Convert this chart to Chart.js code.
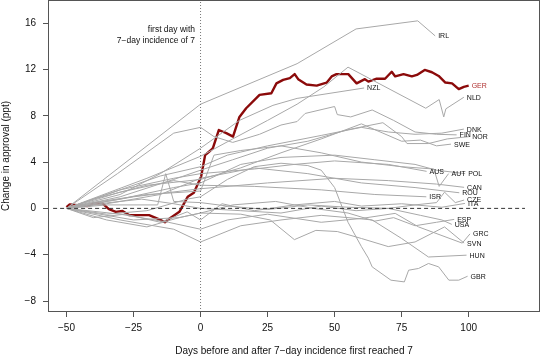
<!DOCTYPE html>
<html lang="en">
<head>
    <meta charset="UTF-8">
    <title>Change in approval</title>
    <script src="https://cdn.jsdelivr.net/npm/chart.js"></script>
    <style>
        body { margin: 0; background: #fff; }
        canvas { display: block; }
    </style>
</head>
<body>
<canvas id="myChart" width="540" height="357"></canvas>

<script>
    // tick labels of the two axes
    const xTicks = [-50, -25, 0, 25, 50, 75, 100];
    const yTicks = [-8, -4, 0, 4, 8, 12, 16];

    // Germany, [day, change in ppt]
    const GER = [[-50,0.1],[-48.8,0.35],[-42.2,0.2],[-39.8,0.43],[-36.6,0.43],[-34.2,-0.06],[-31.6,-0.3],[-29.1,-0.23],
        [-26.7,-0.58],[-19.2,-0.58],[-15.4,-0.95],[-13.3,-1.2],[-11,-0.78],[-7.9,-0.3],[-4.8,1.0],[-2.5,1.35],[0.2,2.73],
        [1.7,4.6],[3.7,5.0],[4.6,5.2],[6.8,6.77],[9.6,6.5],[12.1,6.2],[14.5,7.9],[17,8.65],[22,9.8],[26.4,9.95],[28.3,10.8],
        [30.8,11.1],[33.3,11.25],[35.1,11.6],[36.4,11.16],[39.5,10.7],[43.3,10.6],[47,10.86],[48.9,11.4],[50.7,11.6],[53.3,11.6],
        [55.1,11.6],[58.2,10.8],[61.3,11.16],[62.6,10.95],[65.7,11.2],[68.8,11.2],[71.3,11.8],[72.6,11.4],[75.7,11.6],[78.8,11.4],
        [80.7,11.53],[83.6,11.96],[86.3,11.76],[88.8,11.44],[91.3,10.87],[93.8,10.8],[96.3,10.3],[98.2,10.5],[100,10.6]];

    // the other countries
    const IRL = [[-50,0],[0,9.0],[36,12.5],[58,15.5],[81,16.2],[87.5,14.9]];
    const NZL = [[-50,0],[-30,1.2],[-15,3.0],[0,5.2],[14.5,7.6],[27,8.9],[36,9.5],[61,10.4]];
    const NLD = [[-50,0],[-20,2.6],[0,4.5],[12,6.0],[25,7.6],[36,9.0],[46,10.5],[55,12.2],[84,8.65],[89,9.4],[90.7,7.9],[91.5,8.6],[98.2,9.6]];
    const FIN = [[-50,0],[-31,3.0],[-10,6.5],[0,7.0],[5,6.2],[12,5.7],[22,6.4],[30,7.2],[36,7.5],[39,8.2],[50,8.8],[51,8.1],[56,7.9],[64,8.5],[72,7.6],[80,6.6],[88,6.4],[95.5,6.35]];
    const DNK = [[-50,0],[-35,1.2],[-15,2.8],[0,3.6],[10,4.6],[25,5.4],[45,6.3],[60,7.0],[70,6.6],[80,6.4],[90,6.5],[98.2,6.85]];
    const NOR = [[-50,0],[-30,1.0],[-10,2.5],[0,3.3],[12,4.2],[25,5.2],[40,5.8],[55,6.8],[68,7.4],[75,6.2],[77,5.6],[85,5.6],[92,6.0],[100.2,6.2]];
    const SWE = [[-50,0],[-40,0.8],[-20,2.0],[0,2.5],[15,3.5],[30,4.8],[45,6.0],[60,7.3],[68,6.5],[75,5.8],[82,5.9],[88,5.4],[93.4,5.55]];
    const AUS = [[-50,0],[-30,1.6],[-10,2.6],[0,3.0],[20,3.4],[35,3.8],[50,4.1],[70,3.8],[84.3,3.2]];
    const AUT = [[-50,0],[-40,0.5],[-20,1.2],[0,1.5],[5,4.6],[15,5.0],[30,5.4],[45,4.8],[60,4.0],[75,3.6],[87,3.4],[89,1.9],[92.5,3.0]];
    const POL = [[-50,0],[-30,0.8],[-10,1.8],[0,2.2],[15,3.8],[30,4.4],[50,4.6],[65,4.2],[80,3.8],[88,3.3],[98.7,3.0]];
    const CAN = [[-50,0],[-25,1.0],[0,1.7],[25,2.2],[50,2.6],[70,2.4],[88,2.1],[98.3,1.82]];
    const ROU = [[-50,0],[-35,0.4],[-15,1.2],[0,2.6],[20,3.5],[40,3.0],[60,2.2],[80,1.8],[96.5,1.35]];
    const ISR = [[-50,0],[-30,1.4],[-10,2.4],[0,2.0],[20,1.9],[45,1.6],[65,1.2],[84.2,1.0]];
    const CZE = [[-50,0],[-35,0.3],[-16,0.3],[-13,3.0],[-10,0.6],[0,0.5],[10,0.2],[25,-0.1],[40,0.3],[55,0.1],[70,0.0],[80,0.3],[88,0.5],[91,1.4],[95,0.5],[98.3,0.72]];
    const ITA = [[-50,0],[-40,-0.8],[-28,-0.5],[-15,-1.2],[-5,-0.3],[0,-1.0],[8,0.4],[20,-0.2],[35,0.3],[50,0.6],[60,0.2],[75,0.4],[90,0.1],[98.6,0.43]];
    const ESP = [[-50,0],[-35,-1.0],[-20,-1.6],[-8,-0.8],[0,-0.4],[12,0.3],[28,0.6],[42,0.0],[55,-0.4],[65,-1.1],[72,-0.8],[80,-1.5],[88,-1.2],[94.6,-0.95]];
    const USA = [[-50,0],[-38,0.4],[-22,0.8],[-10,0.4],[0,0.0],[15,-0.2],[30,-0.4],[45,0.2],[58,-0.2],[70,0.0],[82,-0.6],[90,-1.0],[93.7,-1.38]];
    const GRC = [[-50,0],[-30,-0.5],[-12,-1.2],[0,-1.8],[10,-1.0],[25,-0.5],[45,-1.2],[60,-0.87],[72.6,-0.43],[81.3,-1.6],[97.6,-3.0],[100.5,-2.2]];
    const SVN = [[-50,0],[-25,-1.0],[-8,-0.8],[0,-0.4],[15,-0.5],[26,-1.0],[35,-2.7],[43,-1.9],[51,-2.0],[60,-2.6],[70,-3.3],[80,-2.9],[91,-1.6],[98.3,-3.0]];
    const HUN = [[-50,0],[-30,-1.0],[-10,-1.8],[0,-2.9],[15,-1.5],[30,-1.0],[45,-0.6],[55,-0.8],[64,-1.0],[75,-2.6],[85,-4.2],[99.2,-4.04]];
    const GBR = [[-50,0],[-35,-0.5],[-20,-0.2],[-5,0.8],[0,1.0],[10,2.5],[20,3.6],[30,3.9],[40,3.7],[45,3.3],[50,1.8],[55,-1.2],[60,-3.3],
        [62.6,-4.3],[64,-5.05],[71,-6.2],[76,-6.35],[77.6,-5.34],[81.3,-5.19],[85,-4.76],[88.8,-5.05],[92.6,-6.2],[96.3,-6.2],[99.6,-5.86]];

    const paises = [
        ['IRL', IRL], ['NZL', NZL], ['NLD', NLD], ['FIN', FIN], ['DNK', DNK], ['NOR', NOR], ['SWE', SWE],
        ['AUS', AUS], ['AUT', AUT], ['POL', POL], ['CAN', CAN], ['ROU', ROU], ['ISR', ISR], ['CZE', CZE],
        ['ITA', ITA], ['ESP', ESP], ['USA', USA], ['GRC', GRC], ['SVN', SVN], ['HUN', HUN], ['GBR', GBR]
    ];

    const minus = v => String(v).replace('-', '\u2212');
    const pts = arr => arr.map(p => ({ x: p[0], y: p[1] }));

    let datasets = [];

    // reference lines: zero line and day 0
    datasets.push({
        label: 'zero', data: [{ x: -55, y: 0 }, { x: 121, y: 0 }],
        borderColor: '#333', borderWidth: 1, borderDash: [4, 3]
    });
    datasets.push({
        label: 'day0', data: [{ x: 0, y: -8.95 }, { x: 0, y: 18 }],
        borderColor: '#777', borderWidth: 1, borderDash: [1, 2]
    });

    for (var i = 0; i < paises.length; i++) {
        datasets.push({
            label: paises[i][0], data: pts(paises[i][1]),
            borderColor: '#a8a8a8', borderWidth: 1, pais: true
        });
    }

    datasets.push({
        label: 'GER', data: pts(GER),
        borderColor: '#8b0a0a', borderWidth: 2.4, pais: true, corTexto: '#b03030'
    });

    // country codes at the end of each line, box and note
    const extras = {
        id: 'extras',
        afterDatasetsDraw(chart) {
            const ctx = chart.ctx;
            const a = chart.chartArea;
            const sx = chart.scales.x, sy = chart.scales.y;
            ctx.save();
            ctx.font = '7px "Liberation Sans", Arial, sans-serif';
            ctx.textBaseline = 'middle';
            ctx.textAlign = 'left';
            chart.data.datasets.forEach(ds => {
                if (!ds.pais) return;
                const ult = ds.data[ds.data.length - 1];
                ctx.fillStyle = ds.corTexto || '#111';
                ctx.fillText(ds.label, sx.getPixelForValue(ult.x) + 3, sy.getPixelForValue(ult.y) + 0.5);
            });

            ctx.font = '8.5px "Liberation Sans", Arial, sans-serif';
            ctx.textAlign = 'right';
            ctx.fillStyle = '#111';
            ctx.fillText('first day with', sx.getPixelForValue(-2.06), sy.getPixelForValue(15.42));
            ctx.fillText('7\u2212day incidence of 7', sx.getPixelForValue(-2.06), sy.getPixelForValue(14.5));

            ctx.strokeStyle = '#555';
            ctx.lineWidth = 1;
            ctx.strokeRect(Math.round(a.left) + 0.5, Math.round(a.top) + 0.5,
                Math.round(a.right - a.left) - 1, Math.round(a.bottom - a.top) - 1);
            ctx.restore();
        }
    };

    const fonte = { family: '"Liberation Sans", Arial, sans-serif', size: 10 };

    const config = {
        type: 'line',
        data: { datasets: datasets },
        options: {
            responsive: false,
            animation: false,
            devicePixelRatio: 1,
            layout: { padding: { left: 0, right: 0, top: 0, bottom: 0 } },
            elements: { point: { radius: 0 }, line: { tension: 0, borderCapStyle: 'butt', borderJoinStyle: 'round' } },
            plugins: { legend: { display: false }, tooltip: { enabled: false } },
            scales: {
                x: {
                    type: 'linear', min: -56.9, max: 126.6,
                    afterBuildTicks: s => { s.ticks = xTicks.map(v => ({ value: v })); },
                    afterFit: s => { s.height = 45; s.paddingLeft = 0; s.paddingRight = 0; },
                    grid: { drawOnChartArea: false, drawTicks: true, tickLength: 5, color: '#555' },
                    border: { display: false },
                    ticks: { font: fonte, color: '#111', padding: 5, maxRotation: 0, callback: v => minus(v) },
                    title: {
                        display: true, text: 'Days before and after 7\u2212day incidence first reached 7',
                        font: fonte, color: '#111', padding: { top: 0, bottom: 0 }
                    }
                },
                y: {
                    type: 'linear', min: -8.95, max: 18,
                    afterBuildTicks: s => { s.ticks = yTicks.map(v => ({ value: v })); },
                    afterFit: s => { s.width = 48; s.paddingTop = 0; s.paddingBottom = 0; },
                    grid: { drawOnChartArea: false, drawTicks: true, tickLength: 5, color: '#555' },
                    border: { display: false },
                    ticks: { font: fonte, color: '#111', padding: 7, callback: v => minus(v) },
                    title: {
                        display: true, text: 'Change in approval (ppt)',
                        font: fonte, color: '#111', padding: { top: 0, bottom: 0 }
                    }
                }
            }
        },
        plugins: [extras]
    };

    let myChart = new Chart(document.getElementById('myChart'), config);
</script>
</body>
</html>
